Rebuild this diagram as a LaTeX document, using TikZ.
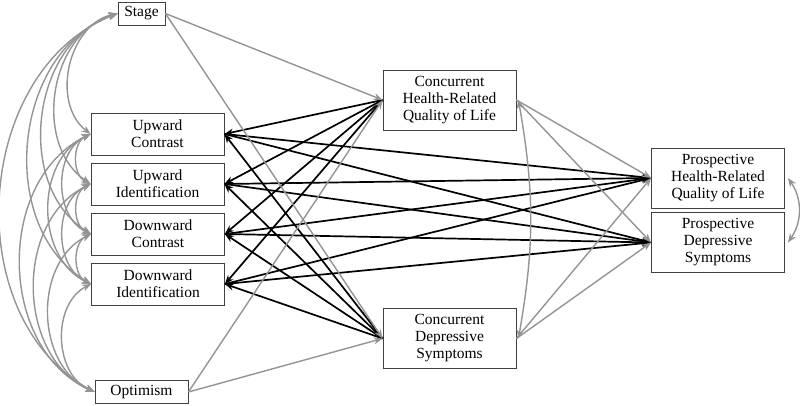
\documentclass[tikz,border=0pt]{standalone}
\usepackage{fontspec}
\setmainfont{Liberation Serif}
\usetikzlibrary{arrows.meta,positioning}

\tikzset{
  varbox/.style={draw=black!75, line width=0.8pt, fill=white, align=center,
    font=\fontsize{15.5}{17}\selectfont, inner sep=2pt,
    minimum width=133pt, minimum height=42pt},
  bigbox/.style={varbox, minimum height=60pt},
  smallbox/.style={varbox, minimum height=23pt},
  gpath/.style={draw=black!42, line width=1.4pt, -{Stealth[length=9pt,width=7pt]}},
  bpath/.style={draw=black, line width=1.7pt, -{Stealth[length=9pt,width=7pt]}},
  gcov/.style={gpath, {Stealth[length=9pt,width=7pt]}-{Stealth[length=9pt,width=7pt]}},
}

\begin{document}
\begin{tikzpicture}[x=1pt,y=-1pt]
\useasboundingbox (0,0) rectangle (800,406);
%Praediktoren links
\node[smallbox, minimum width=47pt] (stage) at (141.5,13.5) {Stage};
\node[varbox] (upcon) at (157.5,134) {Upward\\Contrast};
\node[varbox] (upid) at (157.5,184) {Upward\\Identification};
\node[varbox] (downcon) at (158,234) {Downward\\Contrast};
\node[varbox] (downid) at (158,284) {Downward\\Identification};
\node[smallbox, minimum width=93pt] (optim) at (141.5,392) {Optimism};
%Mitte und rechts
\node[bigbox] (chrql) at (449.5,100) {Concurrent\\Health-Related\\Quality of Life};
\node[bigbox] (cdep) at (449.5,338.5) {Concurrent\\Depressive\\Symptoms};
\node[bigbox] (phrql) at (718,178) {Prospective\\Health-Related\\Quality of Life};
\node[bigbox] (pdep) at (718,242.5) {Prospective\\Depressive\\Symptoms};
%Kovarianzen links
\foreach \a/\b in {stage/upcon,stage/upid,stage/downcon,stage/downid,stage/optim,
  upcon/upid,upcon/downcon,upcon/downid,upcon/optim,upid/downcon,upid/downid,
  upid/optim,downcon/downid,downcon/optim,downid/optim}{
\draw[gcov] (\a.west) to[bend right=65, looseness=1.05] (\b.west);
}
%schwarze Pfade
\foreach \s in {upcon,upid,downcon,downid}{
\draw[bpath] (chrql.west) -- (\s.east);
\draw[bpath] (cdep.west) -- (\s.east);
\draw[bpath] (\s.east) -- (phrql.west);
\draw[bpath] (\s.east) -- (pdep.west);
}
%graue Pfade
\foreach \s in {stage,optim}{
\draw[gpath] (\s.east) -- (chrql.west);
\draw[gpath] (\s.east) -- (cdep.west);
}
\foreach \s in {chrql,cdep}{
\draw[gpath] (\s.east) -- (phrql.west);
\draw[gpath] (\s.east) -- (pdep.west);
}
\draw[gcov] ([xshift=2pt]chrql.east) to[bend left=10] ([xshift=2pt]cdep.east);
\draw[gcov] ([xshift=3pt]phrql.east) to[bend left=35] ([xshift=3pt]pdep.east);
\end{tikzpicture}
\end{document}
